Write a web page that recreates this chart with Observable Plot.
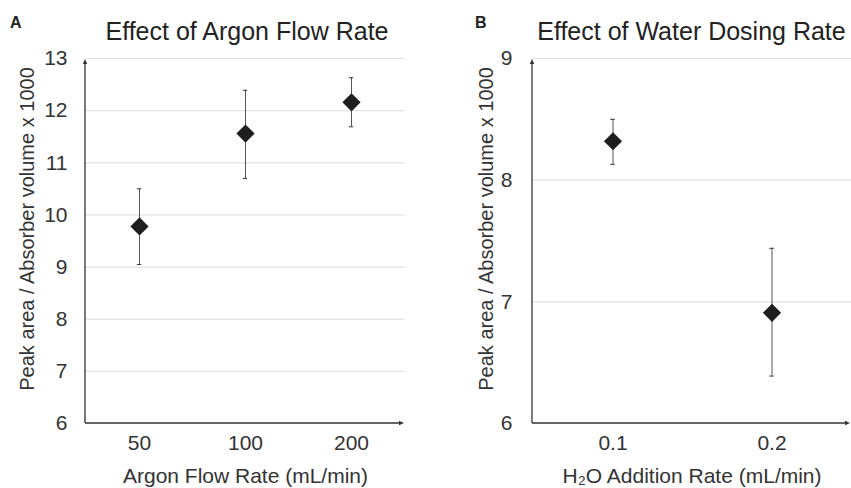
<!DOCTYPE html>
<html><head><meta charset="utf-8">
<script src="https://cdn.jsdelivr.net/npm/d3@7"></script>
<script src="https://cdn.jsdelivr.net/npm/@observablehq/plot@0.6"></script>
<style>
body{margin:0;background:#fff;font-family:"Liberation Sans",Arial,sans-serif;}
#wrap{position:relative;width:851px;height:488px;overflow:hidden;background:#fff}
.panel{position:absolute;top:0}
.tag{position:absolute;font-weight:bold;font-size:16px;line-height:1;color:#222}
.title{position:absolute;font-size:25px;line-height:1;color:#222;text-align:center;white-space:nowrap}
</style></head><body><div id="wrap"></div>
<script>
// Panel A: Effect of Argon Flow Rate
const argonRates = ["50", "100", "200"];
const argonMeans = [9.78, 11.56, 12.16];
const argonLow   = [9.05, 10.70, 11.69];
const argonHigh  = [10.50, 12.39, 12.63];
const yTicksA = [6, 7, 8, 9, 10, 11, 12, 13];

// Panel B: Effect of Water Dosing Rate
const waterRates = ["0.1", "0.2"];
const waterMeans = [8.32, 6.91];
const waterLow   = [8.13, 6.39];
const waterHigh  = [8.50, 7.44];
const yTicksB = [6, 7, 8, 9];

const yTitle = "Peak area / Absorber volume x 1000";
const FONT = '"Liberation Sans", Arial, sans-serif';

function panel(o) {
  const data = o.cats.map((c, i) => ({c, m: o.means[i], lo: o.lo[i], hi: o.hi[i]}));
  const bw = (o.width - o.marginLeft - o.marginRight) / o.cats.length;
  const capInset = bw / 2 - 2.5;
  const svg = Plot.plot({
    width: o.width, height: 488,
    marginTop: 58, marginBottom: 65, marginLeft: o.marginLeft, marginRight: o.marginRight,
    style: {fontFamily: FONT, fontSize: "20px", color: "#333", background: "transparent", overflow: "visible"},
    x: {type: "band", domain: o.cats, padding: 0},
    y: {domain: [o.yTicks[0], o.yTicks[o.yTicks.length - 1]]},
    marks: [
      Plot.gridY(o.yTicks.slice(1), {stroke: "#e2e2e2", strokeOpacity: 1, strokeWidth: 1.2}),
      Plot.axisY({ticks: o.yTicks, tickFormat: d => String(d), tickSize: 0, tickPadding: o.yPad, fontSize: 21, label: null, fill: "#333"}),
      Plot.text([yTitle], {frameAnchor: "left", rotate: -90, textAnchor: "middle", lineAnchor: "bottom", dx: o.yLabelDx, dy: -12, fontSize: 20, fill: "#333"}),
      Plot.axisX({tickSize: 0, tickPadding: 12, fontSize: 21, label: o.xLabel, labelArrow: "none", labelAnchor: "center", labelOffset: 59, fill: "#333"}),
      Plot.ruleX(data, {x: "c", y1: "lo", y2: "hi", stroke: "#555", strokeWidth: 1}),
      Plot.tickY(data, {x: "c", y: "lo", stroke: "#333", strokeWidth: 1, insetLeft: capInset, insetRight: capInset}),
      Plot.tickY(data, {x: "c", y: "hi", stroke: "#333", strokeWidth: 1, insetLeft: capInset, insetRight: capInset}),
      Plot.dot(data, {x: "c", y: "m", symbol: "diamond2", r: 8.2, fill: "#1e1e1e", stroke: "none"})
    ]
  });
  // axis lines with small arrowheads, positioned from the scales
  const xr = svg.scale("x").range, yr = svg.scale("y").range;
  const x0 = xr[0], x1 = xr[1] - 1, yb = yr[0], yt = yr[1] + 1;
  const g = d3.select(svg).append("g").attr("stroke", "#333").attr("fill", "#333");
  g.append("line").attr("x1", x0).attr("x2", x0).attr("y1", yb).attr("y2", yt + 4).attr("stroke-width", 1.3);
  g.append("line").attr("x1", x0).attr("x2", x1 - 4).attr("y1", yb).attr("y2", yb).attr("stroke-width", 1.3);
  g.append("path").attr("stroke", "none").attr("d", `M${x0},${yt}L${x0 - 2.2},${yt + 5}L${x0 + 2.2},${yt + 5}Z`);
  g.append("path").attr("stroke", "none").attr("d", `M${x1},${yb}L${x1 - 5},${yb - 2.2}L${x1 - 5},${yb + 2.2}Z`);
  return svg;
}

const wrap = document.getElementById("wrap");

const pA = panel({cats: argonRates, means: argonMeans, lo: argonLow, hi: argonHigh, yTicks: yTicksA,
  width: 425, marginLeft: 85, marginRight: 20, yPad: 18, yLabelDx: -52, xLabel: "Argon Flow Rate (mL/min)"});
pA.classList.add("panel"); pA.style.left = "0px";
wrap.appendChild(pA);

const pB = panel({cats: waterRates, means: waterMeans, lo: waterLow, hi: waterHigh, yTicks: yTicksB,
  width: 426, marginLeft: 107, marginRight: 0, yPad: 20, yLabelDx: -40, xLabel: "H₂O Addition Rate (mL/min)"});
pB.classList.add("panel"); pB.style.left = "425px";
wrap.appendChild(pB);

function addDiv(cls, text, css) {
  const d = document.createElement("div");
  d.className = cls; d.textContent = text;
  Object.assign(d.style, css);
  wrap.appendChild(d);
}
addDiv("tag", "A", {left: "10px", top: "15px"});
addDiv("tag", "B", {left: "475px", top: "15px"});
addDiv("title", "Effect of Argon Flow Rate", {left: "85px", width: "324px", top: "19px"});
addDiv("title", "Effect of Water Dosing Rate", {left: "532px", width: "319px", top: "19px"});
</script>
</body></html>
